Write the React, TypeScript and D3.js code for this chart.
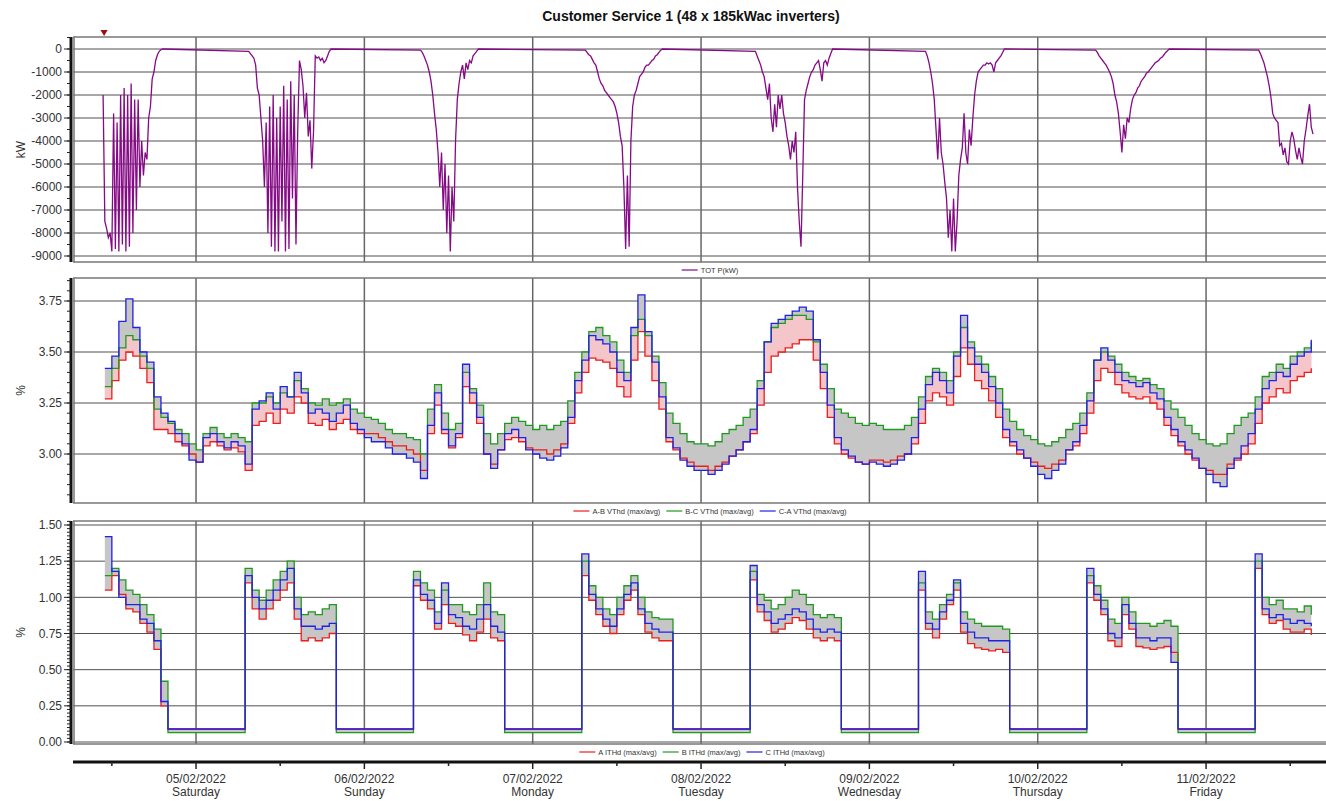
import React, { Component } from "react";
import * as d3 from "d3";

const title = "Customer Service 1 (48 x 185kWac inverters)";

// hours counted from 04/02/2022 00:00
const dayTicks = [24, 48, 72, 96, 120, 144, 168];
const noonTicks = [12, 36, 60, 84, 108, 132, 156, 180];
const dayDates = ["05/02/2022", "06/02/2022", "07/02/2022", "08/02/2022", "09/02/2022", "10/02/2022", "11/02/2022"];
const dayNames = ["Saturday", "Sunday", "Monday", "Tuesday", "Wednesday", "Thursday", "Friday"];

const kwTicks = [0, -1000, -2000, -3000, -4000, -5000, -6000, -7000, -8000, -9000];
const vthdTicks = [3.0, 3.25, 3.5, 3.75];
const ithdTicks = [0, 0.25, 0.5, 0.75, 1.0, 1.25, 1.5];

// TOT P(kW): 15 minute readings, one run per day, first reading at these hours
const kwStartHours = [10.75, 31.5, 56.0, 79.5, 103.75, 128.0, 152.25, 175.5];
const kwDay1 = [-2000, -7500, -7800, -8200, -8000, -8800, -2800, -8700, -3200, -8800, -2000, -8500, -1700, -8800, -2000, -8600, -1500, -8000, -2200, -7000, -2200, -6000, -4000, -5500, -4500, -4800, -3000, -2500, -1300, -1000, -500, -250, -100, -30, 0];
const kwDay2 = [-100, -200, -300, -400, -700, -1700, -2000, -3000, -4000, -6000, -3200, -8000, -2500, -8600, -2000, -8800, -3000, -8800, -2500, -7500, -1600, -8800, -2200, -8700, -1400, -6500, -2000, -8500, -3500, -500, -900, -1600, -3000, -1900, -3800, -3100, -5200, -3600, -300, -400, -350, -500, -400, -600, -500, -300, -100, 0];
const kwDay3 = [-50, -150, -300, -500, -700, -1000, -1400, -2000, -2800, -3500, -4500, -6000, -4500, -7000, -5000, -8000, -5500, -8800, -6000, -7500, -4000, -2200, -1500, -1000, -700, -1300, -600, -900, -500, -600, -300, -200, -100, 0];
const kwDay4 = [-50, -150, -250, -300, -450, -600, -700, -1000, -1300, -1500, -1600, -1800, -1900, -2000, -2100, -2200, -2300, -2500, -2800, -3200, -3800, -4200, -6000, -8700, -5500, -8600, -4000, -2500, -2000, -1800, -1500, -1200, -1100, -1000, -800, -700, -700, -600, -500, -450, -300, -250, -150, -50, 0];
const kwDay5 = [-100, -300, -500, -700, -1000, -1200, -1700, -2200, -1500, -3000, -3600, -2400, -3400, -2000, -2600, -2000, -2800, -3200, -3800, -4200, -4800, -4000, -4500, -3600, -6000, -7500, -8600, -5500, -2200, -1800, -1500, -1200, -1000, -900, -700, -600, -500, -900, -1400, -600, -500, -700, -400, -200, 0];
const kwDay6 = [-100, -300, -600, -1000, -1500, -2200, -3500, -4800, -3000, -4500, -5000, -5800, -6500, -8200, -7000, -8800, -6500, -8800, -7500, -5500, -4800, -4300, -2800, -4500, -5000, -3500, -4200, -3000, -2000, -1400, -1000, -900, -800, -700, -700, -600, -650, -600, -700, -1000, -600, -500, -400, -300, -150, 0];
const kwDay7 = [-50, -150, -300, -400, -500, -600, -700, -850, -1000, -1200, -1500, -2000, -2300, -2800, -3600, -4500, -3300, -3900, -3000, -3200, -2600, -2200, -2000, -1900, -1700, -1600, -1400, -1300, -1200, -1050, -1000, -900, -800, -700, -600, -550, -500, -400, -350, -250, -150, -80, 0];
const kwDay8 = [-50, -200, -400, -600, -900, -1200, -1600, -2100, -2800, -3000, -3100, -3200, -4200, -4100, -4600, -4300, -4900, -5000, -4000, -3600, -3900, -4400, -4800, -4300, -4700, -5000, -4000, -3500, -2900, -2400, -3400, -3700];
const kwDays = [kwDay1, kwDay2, kwDay3, kwDay4, kwDay5, kwDay6, kwDay7, kwDay8];

// hourly readings, the first one at 04/02 11:00
const firstHour = 11;

const vthdAB = [
  3.27, 3.36, 3.46, 3.50, 3.48, 3.42, 3.35, 3.12, 3.12, 3.10, 3.06, 3.04, 3.00,
  2.96, 3.04, 3.06, 3.04, 3.02, 3.03, 3.01, 2.92, 3.14, 3.16, 3.20, 3.15, 3.22, 3.20, 3.28, 3.25, 3.15, 3.14, 3.17, 3.12, 3.15, 3.17, 3.12, 3.10,
  3.10, 3.10, 3.08, 3.06, 3.04, 3.04, 3.02, 3.00, 2.92, 3.10, 3.24, 3.10, 3.03, 3.08, 3.33, 3.25, 3.15, 3.00, 2.95, 3.02, 3.07, 3.08, 3.06, 3.03,
  3.02, 3.02, 3.00, 3.02, 3.05, 3.15, 3.30, 3.40, 3.47, 3.46, 3.45, 3.42, 3.33, 3.28, 3.46, 3.60, 3.48, 3.36, 3.22, 3.06, 3.02, 2.98, 2.96, 2.94,
  2.94, 2.92, 2.94, 2.96, 2.99, 3.02, 3.06, 3.10, 3.24, 3.40, 3.48, 3.50, 3.52, 3.54, 3.56, 3.56, 3.46, 3.32, 3.18, 3.05, 3.00, 2.98, 2.96, 2.95,
  2.97, 2.97, 2.96, 2.97, 2.99, 3.00, 3.05, 3.15, 3.26, 3.30, 3.28, 3.24, 3.38, 3.52, 3.44, 3.36, 3.32, 3.26, 3.18, 3.08, 3.04, 3.00, 2.98, 2.96,
  2.94, 2.93, 2.95, 2.97, 3.02, 3.04, 3.10, 3.20, 3.36, 3.42, 3.40, 3.34, 3.30, 3.28, 3.27, 3.28, 3.25, 3.22, 3.14, 3.09, 3.04, 3.00, 2.97, 2.93,
  2.92, 2.90, 2.90, 2.95, 2.97, 3.00, 3.05, 3.15, 3.25, 3.28, 3.32, 3.30, 3.36, 3.38, 3.40, 3.42,
];
const vthdBC = [
  3.33, 3.42, 3.52, 3.58, 3.56, 3.48, 3.42, 3.22, 3.18, 3.15, 3.12, 3.10, 3.05,
  3.02, 3.10, 3.13, 3.10, 3.08, 3.10, 3.08, 3.06, 3.25, 3.25, 3.28, 3.25, 3.30, 3.28, 3.36, 3.32, 3.25, 3.24, 3.27, 3.24, 3.25, 3.27, 3.22, 3.20,
  3.18, 3.17, 3.15, 3.12, 3.10, 3.10, 3.08, 3.07, 3.00, 3.22, 3.34, 3.20, 3.12, 3.15, 3.40, 3.32, 3.24, 3.10, 3.05, 3.10, 3.15, 3.18, 3.16, 3.14,
  3.12, 3.14, 3.12, 3.14, 3.16, 3.26, 3.40, 3.50, 3.60, 3.62, 3.58, 3.55, 3.46, 3.40, 3.58, 3.66, 3.58, 3.48, 3.35, 3.20, 3.15, 3.10, 3.06, 3.05,
  3.05, 3.04, 3.06, 3.10, 3.12, 3.14, 3.18, 3.22, 3.36, 3.55, 3.62, 3.64, 3.66, 3.68, 3.68, 3.66, 3.55, 3.44, 3.32, 3.22, 3.20, 3.18, 3.15, 3.14,
  3.15, 3.14, 3.12, 3.12, 3.12, 3.14, 3.18, 3.28, 3.38, 3.42, 3.40, 3.36, 3.50, 3.62, 3.55, 3.48, 3.44, 3.38, 3.32, 3.22, 3.16, 3.12, 3.09, 3.07,
  3.05, 3.04, 3.06, 3.08, 3.12, 3.15, 3.20, 3.30, 3.46, 3.50, 3.48, 3.44, 3.40, 3.38, 3.36, 3.37, 3.34, 3.32, 3.26, 3.22, 3.18, 3.14, 3.10, 3.07,
  3.05, 3.04, 3.05, 3.10, 3.14, 3.18, 3.20, 3.28, 3.38, 3.40, 3.44, 3.42, 3.48, 3.50, 3.52, 3.55,
];
const vthdCA = [
  3.42, 3.48, 3.65, 3.76, 3.62, 3.50, 3.45, 3.28, 3.20, 3.16, 3.10, 3.05, 2.97,
  2.96, 3.08, 3.10, 3.06, 3.03, 3.06, 3.04, 2.95, 3.22, 3.26, 3.30, 3.22, 3.33, 3.28, 3.40, 3.30, 3.20, 3.22, 3.20, 3.16, 3.20, 3.24, 3.15, 3.12,
  3.08, 3.06, 3.06, 3.03, 3.00, 3.00, 2.98, 2.96, 2.88, 3.14, 3.30, 3.12, 3.04, 3.10, 3.44, 3.30, 3.18, 3.00, 2.93, 3.02, 3.10, 3.12, 3.08, 3.02,
  3.00, 2.98, 2.97, 2.99, 3.03, 3.18, 3.36, 3.46, 3.58, 3.56, 3.54, 3.50, 3.40, 3.36, 3.62, 3.78, 3.60, 3.45, 3.28, 3.08, 3.03, 2.97, 2.94, 2.92,
  2.92, 2.90, 2.92, 2.95, 2.99, 3.02, 3.06, 3.12, 3.32, 3.55, 3.64, 3.66, 3.68, 3.70, 3.72, 3.70, 3.56, 3.40, 3.24, 3.08, 3.02, 2.99, 2.96, 2.95,
  2.96, 2.95, 2.94, 2.95, 2.97, 3.00, 3.08, 3.22, 3.34, 3.40, 3.36, 3.30, 3.48, 3.68, 3.52, 3.44, 3.40, 3.33, 3.25, 3.12, 3.06, 3.02, 2.98, 2.94,
  2.90, 2.88, 2.92, 2.95, 3.02, 3.06, 3.14, 3.26, 3.46, 3.52, 3.46, 3.40, 3.36, 3.35, 3.33, 3.35, 3.30, 3.27, 3.18, 3.12, 3.06, 3.02, 2.98, 2.93,
  2.90, 2.86, 2.84, 2.93, 2.98, 3.04, 3.10, 3.22, 3.32, 3.36, 3.40, 3.38, 3.44, 3.48, 3.50, 3.56,
];

const ithdA = [
  1.05, 1.15, 1.02, 0.92, 0.90, 0.82, 0.76, 0.64, 0.25, 0.09, 0.09, 0.09, 0.09,
  0.09, 0.09, 0.09, 0.09, 0.09, 0.09, 0.09, 1.10, 0.92, 0.85, 0.92, 0.98, 1.05, 1.10, 0.85, 0.70, 0.72, 0.70, 0.72, 0.75, 0.09, 0.09, 0.09, 0.09,
  0.09, 0.09, 0.09, 0.09, 0.09, 0.09, 0.09, 1.08, 0.98, 0.92, 0.78, 0.95, 0.82, 0.80, 0.74, 0.70, 0.76, 0.85, 0.72, 0.70, 0.09, 0.09, 0.09, 0.09,
  0.09, 0.09, 0.09, 0.09, 0.09, 0.09, 0.09, 1.15, 0.98, 0.88, 0.80, 0.75, 0.88, 0.98, 1.05, 0.88, 0.76, 0.72, 0.70, 0.70, 0.09, 0.09, 0.09, 0.09,
  0.09, 0.09, 0.09, 0.09, 0.09, 0.09, 0.09, 1.12, 0.90, 0.84, 0.76, 0.78, 0.82, 0.86, 0.84, 0.78, 0.72, 0.70, 0.72, 0.70, 0.09, 0.09, 0.09, 0.09,
  0.09, 0.09, 0.09, 0.09, 0.09, 0.09, 0.09, 1.05, 0.78, 0.72, 0.85, 0.95, 1.05, 0.76, 0.68, 0.65, 0.64, 0.63, 0.64, 0.62, 0.09, 0.09, 0.09, 0.09,
  0.09, 0.09, 0.09, 0.09, 0.09, 0.09, 0.09, 1.10, 0.98, 0.88, 0.70, 0.66, 0.88, 0.78, 0.66, 0.65, 0.64, 0.65, 0.66, 0.62, 0.09, 0.09, 0.09, 0.09,
  0.09, 0.09, 0.09, 0.09, 0.09, 0.09, 0.09, 1.20, 0.88, 0.82, 0.84, 0.78, 0.76, 0.76, 0.78, 0.74,
];
const ithdB = [
  1.15, 1.20, 1.12, 1.05, 1.02, 0.95, 0.88, 0.78, 0.42, 0.065, 0.065, 0.065, 0.065,
  0.065, 0.065, 0.065, 0.065, 0.065, 0.065, 0.065, 1.20, 1.05, 0.98, 1.05, 1.12, 1.18, 1.25, 1.00, 0.88, 0.90, 0.88, 0.92, 0.95, 0.065, 0.065, 0.065, 0.065,
  0.065, 0.065, 0.065, 0.065, 0.065, 0.065, 0.065, 1.18, 1.10, 1.05, 0.90, 1.05, 0.95, 0.95, 0.90, 0.88, 0.95, 1.10, 0.90, 0.88, 0.065, 0.065, 0.065, 0.065,
  0.065, 0.065, 0.065, 0.065, 0.065, 0.065, 0.065, 1.25, 1.08, 1.00, 0.92, 0.88, 1.00, 1.08, 1.15, 1.00, 0.90, 0.86, 0.85, 0.85, 0.065, 0.065, 0.065, 0.065,
  0.065, 0.065, 0.065, 0.065, 0.065, 0.065, 0.065, 1.18, 1.02, 0.98, 0.92, 0.95, 1.00, 1.05, 1.02, 0.95, 0.88, 0.86, 0.88, 0.86, 0.065, 0.065, 0.065, 0.065,
  0.065, 0.065, 0.065, 0.065, 0.065, 0.065, 0.065, 1.10, 0.90, 0.85, 0.95, 1.02, 1.10, 0.90, 0.85, 0.82, 0.80, 0.80, 0.80, 0.78, 0.065, 0.065, 0.065, 0.065,
  0.065, 0.065, 0.065, 0.065, 0.065, 0.065, 0.065, 1.15, 1.08, 0.98, 0.85, 0.82, 1.00, 0.90, 0.82, 0.82, 0.80, 0.82, 0.84, 0.80, 0.065, 0.065, 0.065, 0.065,
  0.065, 0.065, 0.065, 0.065, 0.065, 0.065, 0.065, 1.25, 1.00, 0.95, 0.98, 0.92, 0.92, 0.90, 0.94, 0.88,
];
const ithdC = [
  1.42, 1.18, 1.00, 0.95, 0.95, 0.85, 0.82, 0.70, 0.28, 0.09, 0.09, 0.09, 0.09,
  0.09, 0.09, 0.09, 0.09, 0.09, 0.09, 0.09, 1.15, 1.00, 0.92, 0.98, 1.05, 1.12, 1.20, 0.92, 0.80, 0.80, 0.78, 0.80, 0.82, 0.09, 0.09, 0.09, 0.09,
  0.09, 0.09, 0.09, 0.09, 0.09, 0.09, 0.09, 1.12, 1.02, 0.98, 0.82, 1.10, 0.88, 0.86, 0.80, 0.78, 0.85, 0.95, 0.80, 0.76, 0.09, 0.09, 0.09, 0.09,
  0.09, 0.09, 0.09, 0.09, 0.09, 0.09, 0.09, 1.30, 1.02, 0.92, 0.85, 0.80, 0.92, 1.02, 1.10, 0.92, 0.82, 0.78, 0.76, 0.76, 0.09, 0.09, 0.09, 0.09,
  0.09, 0.09, 0.09, 0.09, 0.09, 0.09, 0.09, 1.22, 0.95, 0.90, 0.82, 0.85, 0.88, 0.92, 0.90, 0.85, 0.78, 0.76, 0.78, 0.76, 0.09, 0.09, 0.09, 0.09,
  0.09, 0.09, 0.09, 0.09, 0.09, 0.09, 0.09, 1.18, 0.82, 0.78, 0.90, 0.98, 1.12, 0.82, 0.76, 0.72, 0.72, 0.70, 0.70, 0.70, 0.09, 0.09, 0.09, 0.09,
  0.09, 0.09, 0.09, 0.09, 0.09, 0.09, 0.09, 1.20, 1.02, 0.92, 0.75, 0.72, 0.95, 0.82, 0.72, 0.72, 0.70, 0.72, 0.72, 0.55, 0.09, 0.09, 0.09, 0.09,
  0.09, 0.09, 0.09, 0.09, 0.09, 0.09, 0.09, 1.30, 0.92, 0.86, 0.88, 0.85, 0.82, 0.84, 0.82, 0.80,
];

const FONT = "'Liberation Sans', Arial, sans-serif";
const RED = "#ee1c1c";
const GREEN = "#1e9a1e";
const BLUE = "#2020e6";

class App extends Component {
  svgRef = React.createRef<SVGSVGElement>();

  componentDidMount() {
    document.body.style.margin = "0";
    const svg = d3.select(this.svgRef.current);
    svg.selectAll("*").remove();

    const left = 73, right = 1326;
    const x = d3.scaleLinear().domain([6.46, 185.1]).range([left, right]);

    const panels = [
      { top: 37, bottom: 262, y: d3.scaleLinear().domain([-9000, 0]).range([256, 49]), ticks: kwTicks, minor: 500, fmt: (v) => String(v), label: "kW" },
      { top: 278, bottom: 503, y: d3.scaleLinear().domain([3.0, 3.75]).range([454, 301]), ticks: vthdTicks, minor: 0.05, fmt: (v) => v.toFixed(2), label: "%" },
      { top: 521, bottom: 744, y: d3.scaleLinear().domain([0, 1.5]).range([742, 525]), ticks: ithdTicks, minor: 0.025, fmt: (v) => v.toFixed(2), label: "%" },
    ];

    // title + start marker
    svg.append("text")
      .attr("x", 691).attr("y", 21)
      .attr("text-anchor", "middle")
      .style("font-family", FONT).style("font-size", "14px").style("font-weight", "bold")
      .attr("fill", "#111")
      .text(title);

    svg.append("path")
      .attr("d", d3.symbol(d3.symbolTriangle, 22)())
      .attr("transform", `translate(${x(kwStartHours[0]) + 1}, 32) rotate(180)`)
      .attr("fill", "#9b1010");

    const frames = panels.map((p) => {
      const g = svg.append("g");
      g.selectAll(".hgrid").data(p.ticks).join("line")
        .attr("x1", left).attr("x2", right)
        .attr("y1", (d) => p.y(d)).attr("y2", (d) => p.y(d))
        .attr("stroke", "#505050").attr("stroke-width", 1);
      g.selectAll(".vgrid").data(dayTicks).join("line")
        .attr("x1", (d) => x(d)).attr("x2", (d) => x(d))
        .attr("y1", p.top).attr("y2", p.bottom)
        .attr("stroke", "#666").attr("stroke-width", 1.5);
      g.append("line").attr("x1", left).attr("x2", right).attr("y1", p.top).attr("y2", p.top)
        .attr("stroke", "#777").attr("stroke-width", 1.5);
      g.append("line").attr("x1", left).attr("x2", right).attr("y1", p.bottom).attr("y2", p.bottom)
        .attr("stroke", "#777").attr("stroke-width", 1.5);
      g.append("line").attr("x1", left + 1).attr("x2", left + 1).attr("y1", p.top).attr("y2", p.bottom)
        .attr("stroke", "#777").attr("stroke-width", 1.5);
      return g;
    });

    // TOT P(kW)
    const kwPoints = [];
    kwDays.forEach((vals, d) => {
      vals.forEach((v, j) => kwPoints.push({ h: kwStartHours[d] + j * 0.25, v }));
    });
    const y1 = panels[0].y;
    frames[0].append("path")
      .datum(kwPoints)
      .attr("fill", "none")
      .attr("stroke", "#850a85")
      .attr("stroke-width", 1.3)
      .attr("d", d3.line().x((d) => x(d.h)).y((d) => y1(d.v)));

    // three-phase panels: grey spread band (pink tint for phase A on the voltage panel)
    const drawPhases = (g, y, a, b, c, tint) => {
      const rows = a.map((v, i) => ({ h: firstHour + i, a: v, b: b[i], c: c[i] }));
      g.append("path")
        .datum(rows)
        .attr("fill", "#c6c6c6")
        .attr("d", d3.area()
          .x((d) => x(d.h))
          .y0((d) => y(Math.min(d.a, d.b, d.c)))
          .y1((d) => y(Math.max(d.a, d.b, d.c)))
          .curve(d3.curveStepAfter));
      if (tint) {
        g.append("path")
          .datum(rows)
          .attr("fill", "#f4c6ca")
          .attr("d", d3.area()
            .x((d) => x(d.h))
            .y0((d) => y(d.a))
            .y1((d) => y(d3.median([d.a, d.b, d.c])))
            .curve(d3.curveStepAfter));
      }
      [["a", RED], ["b", GREEN], ["c", BLUE]].forEach(([k, col]) => {
        g.append("path")
          .datum(rows)
          .attr("fill", "none")
          .attr("stroke", col)
          .attr("stroke-width", 1.3)
          .attr("d", d3.line().x((d) => x(d.h)).y((d) => y(d[k])).curve(d3.curveStepAfter));
      });
    };
    drawPhases(frames[1], panels[1].y, vthdAB, vthdBC, vthdCA, true);
    drawPhases(frames[2], panels[2].y, ithdA, ithdB, ithdC, false);

    // y axes
    panels.forEach((p) => {
      const g = svg.append("g");
      g.append("line").attr("x1", 71).attr("x2", 71).attr("y1", p.top).attr("y2", p.bottom)
        .attr("stroke", "#111").attr("stroke-width", 3);
      const lo = p.y.invert(p.bottom), hi = p.y.invert(p.top);
      const minors = d3.range(Math.ceil(lo / p.minor), Math.floor(hi / p.minor) + 1).map((k) => k * p.minor);
      g.selectAll(".minor").data(minors).join("line")
        .attr("x1", 67).attr("x2", 71)
        .attr("y1", (d) => p.y(d)).attr("y2", (d) => p.y(d))
        .attr("stroke", "#222").attr("stroke-width", 1);
      g.selectAll(".major").data(p.ticks).join("line")
        .attr("x1", 64).attr("x2", 71)
        .attr("y1", (d) => p.y(d)).attr("y2", (d) => p.y(d))
        .attr("stroke", "#222").attr("stroke-width", 1);
      g.selectAll(".lbl").data(p.ticks).join("text")
        .attr("x", 62).attr("y", (d) => p.y(d))
        .attr("dy", "0.35em")
        .attr("text-anchor", "end")
        .style("font-family", FONT).style("font-size", "12px")
        .attr("fill", "#333")
        .text((d) => p.fmt(d));
      g.append("text")
        .attr("transform", `translate(25, ${(p.top + p.bottom) / 2}) rotate(-90)`)
        .attr("text-anchor", "middle")
        .style("font-family", FONT).style("font-size", "12px")
        .attr("fill", "#333")
        .text(p.label);
    });

    // legends
    const legends = [
      { y: 270, cx: 710, items: [["TOT P(kW)", "#850a85"]] },
      { y: 511, cx: 710, items: [["A-B VThd (max/avg)", RED], ["B-C VThd (max/avg)", GREEN], ["C-A VThd (max/avg)", BLUE]] },
      { y: 752, cx: 702, items: [["A ITHd (max/avg)", RED], ["B ITHd (max/avg)", GREEN], ["C ITHd (max/avg)", BLUE]] },
    ];
    legends.forEach((lg) => {
      const g = svg.append("g");
      let cursor = 0;
      lg.items.forEach(([name, col]) => {
        g.append("line").attr("x1", cursor).attr("x2", cursor + 16).attr("y1", lg.y).attr("y2", lg.y)
          .attr("stroke", col).attr("stroke-width", 1.2);
        const t = g.append("text")
          .attr("x", cursor + 19).attr("y", lg.y).attr("dy", "0.35em")
          .style("font-family", FONT).style("font-size", "7.5px")
          .attr("fill", "#333")
          .text(name);
        const w = (t.node() as SVGTextElement).getComputedTextLength();
        cursor += 19 + w + 6;
      });
      const total = cursor - 6;
      g.attr("transform", `translate(${lg.cx - total / 2}, 0)`);
    });

    // x axis
    const ax = svg.append("g");
    ax.append("line").attr("x1", left).attr("x2", right).attr("y1", 762).attr("y2", 762)
      .attr("stroke", "#111").attr("stroke-width", 3);
    ax.selectAll(".maj").data(dayTicks).join("line")
      .attr("x1", (d) => x(d)).attr("x2", (d) => x(d))
      .attr("y1", 762).attr("y2", 769)
      .attr("stroke", "#222").attr("stroke-width", 1.5);
    ax.selectAll(".min").data(noonTicks).join("line")
      .attr("x1", (d) => x(d)).attr("x2", (d) => x(d))
      .attr("y1", 762).attr("y2", 766)
      .attr("stroke", "#222").attr("stroke-width", 1.5);
    ax.selectAll(".date").data(dayTicks).join("text")
      .attr("x", (d) => x(d)).attr("y", 783)
      .attr("text-anchor", "middle")
      .style("font-family", FONT).style("font-size", "12px")
      .attr("fill", "#333")
      .text((d, i) => dayDates[i]);
    ax.selectAll(".dname").data(dayTicks).join("text")
      .attr("x", (d) => x(d)).attr("y", 796)
      .attr("text-anchor", "middle")
      .style("font-family", FONT).style("font-size", "12px")
      .attr("fill", "#333")
      .text((d, i) => dayNames[i]);
  }

  render() {
    return (
      <svg ref={this.svgRef} width={1326} height={801} style={{ display: "block", background: "#fff" }}></svg>
    );
  }
}

export default App;
